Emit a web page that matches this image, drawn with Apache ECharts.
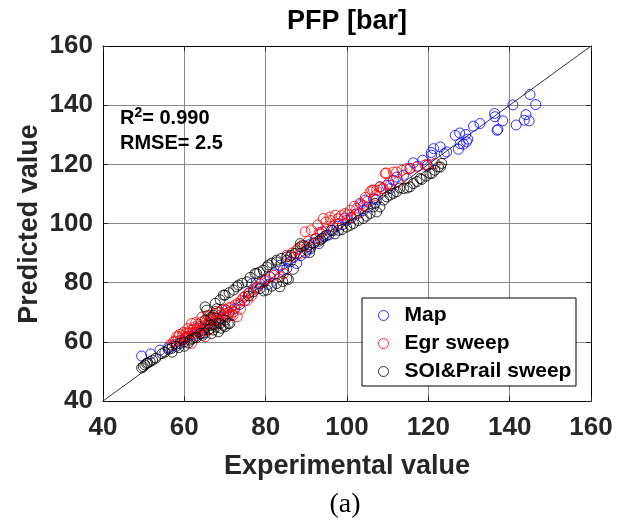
<!DOCTYPE html>
<html>
<head>
<meta charset="utf-8">
<script src="https://cdn.jsdelivr.net/npm/echarts@6/dist/echarts.min.js"></script>
<style>html,body{margin:0;padding:0;background:#fff;}#c{width:629px;height:524px;}</style>
</head>
<body>
<div id="c"></div>
<script>
var xTicks = [40, 60, 80, 100, 120, 140, 160];
var yTicks = [40, 60, 80, 100, 120, 140, 160];
var seriesNames = ['Map', 'Egr sweep', 'SOI&Prail sweep'];
var diagLine = [[40, 40], [160, 160]];

var mapPts = [[49.5,55.2],[51.7,55.9],[54.0,57.2],[56.0,58.0],[57.0,58.6],[58.0,59.2],[59.5,60.6],[60.2,61.2],[61.0,61.8],[62.5,62.6],[63.1,64.6],[63.8,63.5],[64.4,62.8],[65.0,64.6],[66.2,66.4],[66.9,67.6],[67.3,65.8],[68.5,67.6],[69.8,68.4],[70.4,70.6],[71.0,69.9],[72.4,71.2],[73.6,72.6],[74.8,73.8],[75.8,76.5],[76.6,79.7],[77.6,78.2],[78.6,79.6],[79.8,80.6],[80.6,79.4],[81.0,82.0],[82.1,83.0],[83.5,85.9],[84.3,84.2],[85.2,84.8],[86.1,87.1],[86.9,88.6],[87.6,86.5],[88.6,89.1],[89.8,90.1],[90.6,92.8],[91.0,91.4],[92.2,94.9],[93.1,93.2],[93.9,97.2],[94.4,95.6],[95.5,96.1],[96.6,97.6],[97.6,99.1],[98.9,99.6],[99.4,101.8],[100.0,101.1],[101.1,102.0],[102.2,103.2],[103.2,106.8],[104.0,104.4],[104.5,107.9],[105.0,105.5],[106.5,108.4],[107.2,108.0],[108.1,112.4],[109.8,112.9],[110.6,111.8],[111.4,114.6],[112.2,115.7],[113.9,116.3],[115.5,118.6],[116.3,120.5],[117.4,119.4],[118.6,121.4],[119.8,119.6],[120.7,124.0],[120.8,123.1],[121.3,125.3],[122.9,125.9],[123.9,123.6],[124.5,124.2],[126.6,129.8],[127.4,125.1],[127.7,130.6],[127.8,127.0],[128.6,126.8],[129.2,130.1],[129.4,127.6],[129.7,128.5],[131.1,132.9],[132.7,133.8],[136.3,137.2],[136.4,136.1],[136.9,131.5],[137.1,131.8],[138.3,134.7],[140.8,140.1],[141.6,133.3],[143.6,134.9],[144.0,136.8],[144.8,134.7],[145.0,143.6],[146.4,140.2]];

var egrPts = [[56.5,59.0],[57.3,60.0],[57.8,60.2],[58.1,61.7],[58.5,61.7],[58.8,62.5],[59.0,60.5],[59.5,62.0],[59.8,63.2],[60.0,61.0],[60.3,61.6],[60.5,63.0],[60.8,64.5],[61.0,62.0],[61.2,63.0],[61.5,64.0],[61.8,66.2],[61.8,59.5],[62.0,63.0],[62.2,64.2],[62.5,65.0],[62.8,66.5],[63.0,62.0],[63.0,64.0],[63.3,63.2],[63.5,66.0],[63.8,65.2],[64.0,63.0],[64.2,66.7],[64.3,68.4],[64.5,65.0],[64.8,63.8],[65.0,64.0],[65.1,61.7],[65.3,65.8],[65.5,67.0],[65.8,69.0],[66.0,66.0],[66.0,68.5],[66.3,67.2],[66.5,64.5],[66.8,65.6],[67.0,67.0],[67.3,68.2],[67.5,69.5],[67.8,70.3],[68.0,66.0],[68.0,68.0],[68.3,67.2],[68.5,70.0],[68.8,69.0],[69.0,67.0],[69.3,70.8],[69.5,69.0],[70.0,71.0],[70.2,69.6],[70.5,68.5],[70.8,71.5],[71.0,70.0],[71.3,68.8],[71.6,71.8],[72.0,70.1],[72.0,69.0],[72.5,72.5],[73.0,68.5],[73.2,73.0],[73.8,71.0],[74.0,74.0],[74.5,75.0],[75.0,75.5],[75.5,74.0],[76.0,76.5],[76.5,75.5],[77.0,77.5],[78.0,78.5],[79.0,80.0],[80.0,81.0],[81.0,82.0],[82.0,82.5],[83.5,82.0],[84.4,83.1],[85.2,89.3],[86.0,88.7],[86.5,90.0],[87.6,91.0],[88.0,91.5],[88.5,89.9],[89.0,92.6],[89.7,97.2],[90.1,92.1],[90.5,94.0],[91.2,97.8],[91.7,93.2],[92.5,95.0],[92.8,99.5],[93.2,97.0],[93.5,96.5],[94.2,101.7],[94.8,100.5],[95.0,98.0],[95.8,102.2],[96.0,101.0],[96.5,99.0],[97.1,102.8],[97.8,101.6],[98.0,100.0],[98.6,102.7],[99.5,103.4],[100.2,103.0],[100.8,104.5],[101.0,102.0],[101.8,105.8],[102.4,105.1],[103.0,103.5],[103.5,106.5],[104.0,106.0],[104.5,108.8],[105.0,107.5],[105.7,110.7],[106.1,111.3],[106.5,111.3],[107.0,109.5],[107.3,111.3],[108.1,112.4],[108.6,111.8],[108.9,111.8],[109.4,116.9],[109.6,117.1],[110.2,113.5],[110.6,112.9],[111.4,117.4],[112.2,117.4],[112.6,114.1],[113.5,118.0],[114.7,115.2],[114.7,118.6],[115.5,118.6],[117.2,119.1],[119.2,119.7],[119.6,120.0],[121.7,120.3]];

var soiPts = [[49.5,51.2],[49.9,51.6],[50.3,52.2],[50.7,52.7],[51.0,52.9],[51.6,53.3],[52.2,53.8],[53.0,54.5],[54.5,56.0],[55.2,56.5],[56.1,57.4],[56.9,57.8],[57.0,56.5],[58.0,58.5],[58.6,58.0],[59.0,59.5],[60.0,60.0],[60.0,58.5],[61.0,59.6],[61.4,60.6],[62.0,61.0],[62.5,61.5],[63.0,61.4],[63.9,62.8],[64.5,62.2],[65.0,63.0],[66.0,64.2],[66.3,65.6],[66.7,62.8],[67.1,64.0],[67.8,65.0],[68.4,63.4],[68.8,66.2],[69.0,64.6],[69.6,65.6],[70.0,65.1],[70.8,66.2],[71.2,66.2],[70.0,67.3],[65.1,67.3],[66.5,68.2],[67.1,69.0],[65.5,70.7],[65.1,71.8],[68.0,71.2],[67.6,73.0],[68.8,74.2],[69.6,75.8],[70.0,75.8],[71.0,76.6],[72.1,77.5],[72.9,78.6],[73.3,79.2],[74.2,79.8],[75.4,80.3],[76.2,81.8],[77.4,83.1],[77.8,83.1],[78.5,83.6],[79.4,84.2],[80.3,85.3],[80.7,86.0],[81.5,86.6],[82.7,87.6],[82.7,87.0],[83.8,88.2],[85.2,88.7],[85.2,87.6],[86.2,89.2],[87.2,89.9],[88.5,92.1],[88.5,93.2],[89.4,92.5],[90.1,91.0],[75.8,75.5],[77.0,76.9],[78.6,78.0],[79.5,77.2],[80.3,77.5],[81.5,78.8],[82.7,79.7],[83.5,78.6],[84.2,80.4],[85.2,81.4],[85.6,81.1],[86.8,84.5],[90.8,90.2],[91.0,92.0],[92.0,93.5],[93.0,94.0],[93.5,94.6],[94.0,95.0],[95.0,96.0],[96.2,97.7],[97.0,96.5],[97.9,97.7],[98.8,98.0],[99.9,98.8],[100.8,99.4],[101.6,100.0],[102.8,101.0],[104.0,101.7],[104.8,102.5],[105.7,103.4],[106.5,105.6],[106.9,106.8],[107.3,103.9],[108.1,105.6],[109.0,107.9],[109.8,109.0],[110.6,109.6],[111.4,110.2],[112.2,110.7],[113.0,112.0],[113.9,111.8],[114.8,112.0],[115.5,112.4],[116.3,113.5],[117.2,114.2],[118.0,115.2],[118.4,114.9],[119.5,116.0],[120.4,116.9],[120.9,116.9],[121.6,118.0],[122.5,119.1],[123.0,119.1],[123.3,120.3]];

var colors = ['#0000ff', '#ff0000', '#000000'];
var FONT = '"Liberation Sans", Arial, sans-serif';

var chart = echarts.init(document.getElementById('c'), null, {renderer: 'canvas'});

function scatter(name, data, color) {
  return {
    name: name, type: 'scatter', data: data, symbol: 'circle', symbolSize: 10,
    itemStyle: {color: 'rgba(0,0,0,0)', borderColor: color, borderWidth: 1},
    emphasis: {disabled: true}, z: 3
  };
}

var axisCommon = {
  type: 'value', min: 40, max: 160, interval: 20,
  axisLine: {show: true, onZero: false, lineStyle: {color: '#000', width: 1}},
  axisTick: {show: true, inside: true, length: 5, lineStyle: {color: '#262626'}},
  splitLine: {show: false}
};

var option = {
  animation: false,
  backgroundColor: '#fff',
  grid: {left: 103, right: 38, top: 46, bottom: 123, show: false},
  xAxis: [
    Object.assign({}, axisCommon, {
      position: 'bottom',
      axisLabel: {show: true, margin: 14, color: '#262626', fontFamily: FONT, fontWeight: 'bold', fontSize: 26,
        formatter: function (v) { return xTicks.indexOf(v) >= 0 ? String(v) : ''; }},
      splitLine: {show: true, lineStyle: {color: '#8a8a8a', width: 1}}
    }),
    Object.assign({}, axisCommon, {position: 'top', axisLabel: {show: false}})
  ],
  yAxis: [
    Object.assign({}, axisCommon, {
      position: 'left',
      axisLabel: {show: true, margin: 10, color: '#262626', fontFamily: FONT, fontWeight: 'bold', fontSize: 26,
        formatter: function (v) { return yTicks.indexOf(v) >= 0 ? String(v) : ''; }},
      splitLine: {show: true, lineStyle: {color: '#8a8a8a', width: 1}}
    }),
    Object.assign({}, axisCommon, {position: 'right', axisLabel: {show: false}})
  ],
  legend: {
    orient: 'vertical', left: 378, top: 305, padding: 0, itemGap: 7,
    itemWidth: 10, itemHeight: 10,
    textStyle: {fontFamily: FONT, fontWeight: 'bold', fontSize: 21, color: '#000', lineHeight: 21, padding: [0, 0, 0, 11]},
    selectedMode: false, z: 10,
    data: seriesNames.map(function (n, i) {
      return {name: n, icon: 'circle', itemStyle: {color: 'rgba(0,0,0,0)', borderColor: colors[i], borderWidth: 1}};
    })
  },
  graphic: [
    {type: 'rect', shape: {x: 362, y: 298, width: 214, height: 88}, style: {fill: '#fff', stroke: '#000', lineWidth: 1}, z: 8},
    {type: 'text', x: 347, y: 22, style: {text: 'PFP [bar]', font: 'bold 27px ' + FONT, fill: '#000', textAlign: 'center', textVerticalAlign: 'middle'}},
    {type: 'text', x: 347, y: 467, style: {text: 'Experimental value', font: 'bold 27px ' + FONT, fill: '#262626', textAlign: 'center', textVerticalAlign: 'middle'}},
    {type: 'text', x: 30, y: 224, rotation: Math.PI / 2, style: {text: 'Predicted value', font: 'bold 27px ' + FONT, fill: '#262626', textAlign: 'center', textVerticalAlign: 'middle'}},
    {type: 'text', x: 345, y: 505, style: {text: '(a)', font: '28px "Liberation Serif", "Times New Roman", serif', fill: '#000', textAlign: 'center', textVerticalAlign: 'middle'}},
    {type: 'text', x: 120, y: 117, z: 9, style: {
      text: '{b|R}{s|2}{b|= 0.990}', textVerticalAlign: 'middle',
      rich: {b: {font: 'bold 20px ' + FONT, fill: '#000', verticalAlign: 'bottom', lineHeight: 22},
             s: {font: 'bold 14px ' + FONT, fill: '#000', verticalAlign: 'top', lineHeight: 22}}}},
    {type: 'text', x: 120, y: 143, z: 9, style: {text: 'RMSE= 2.5', font: 'bold 20px ' + FONT, fill: '#000', textVerticalAlign: 'middle'}}
  ],
  series: [
    {name: 'diag', type: 'line', data: diagLine, symbol: 'none', silent: true, z: 2,
      lineStyle: {color: '#000', width: 0.8}},
    scatter(seriesNames[0], mapPts, colors[0]),
    scatter(seriesNames[1], egrPts, colors[1]),
    scatter(seriesNames[2], soiPts, colors[2])
  ]
};
chart.setOption(option);
</script>
</body>
</html>
